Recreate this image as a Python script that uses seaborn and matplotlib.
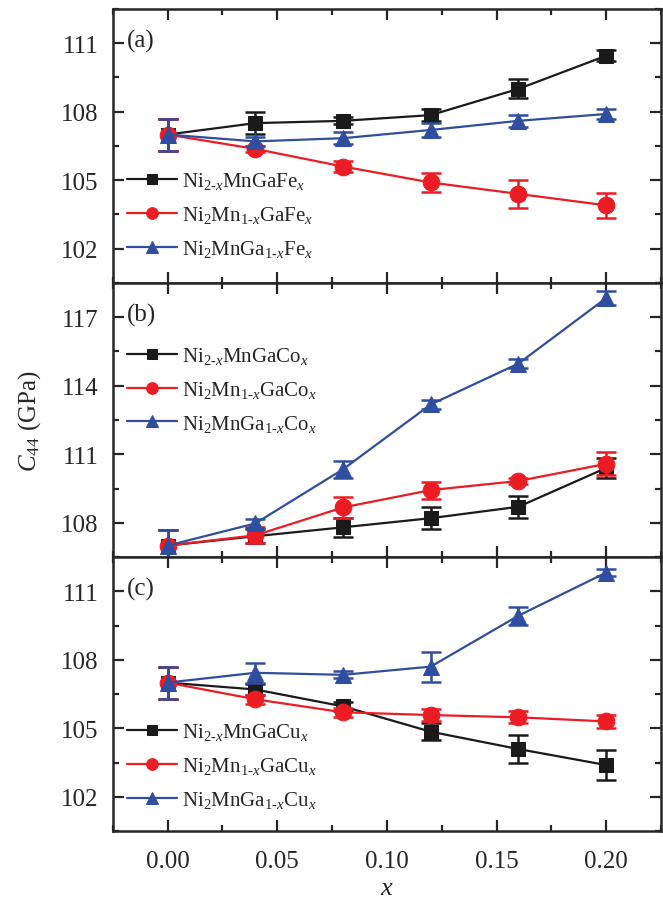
import numpy as np
import pandas as pd
import matplotlib
matplotlib.use("Agg")
import matplotlib.pyplot as plt
import seaborn as sns
from matplotlib.ticker import MultipleLocator

# ---------------- data ----------------
x = [0.00, 0.04, 0.08, 0.12, 0.16, 0.20]

# panel (a) Fe
a_ni = [107.0, 107.5, 107.6, 107.85, 109.0, 110.45]
a_ni_err = [0.7, 0.47, 0.15, 0.25, 0.42, 0.25]
a_mn = [107.0, 106.37, 105.6, 104.9, 104.4, 103.9]
a_mn_err = [0.7, 0.15, 0.22, 0.42, 0.6, 0.54]
a_ga = [107.0, 106.7, 106.84, 107.2, 107.6, 107.9]
a_ga_err = [0.7, 0.2, 0.25, 0.3, 0.25, 0.2]

# panel (b) Co
b_ni = [107.0, 107.41, 107.8, 108.2, 108.7, 110.4]
b_ni_err = [0.7, 0.3, 0.42, 0.47, 0.47, 0.42]
b_mn = [107.0, 107.45, 108.67, 109.43, 109.83, 110.58]
b_mn_err = [0.7, 0.35, 0.47, 0.37, 0.15, 0.5]
b_ga = [107.0, 107.97, 110.34, 113.18, 114.97, 117.84]
b_ga_err = [0.7, 0.2, 0.38, 0.2, 0.2, 0.3]

# panel (c) Cu
c_ni = [107.0, 106.7, 105.96, 104.85, 104.09, 103.39]
c_ni_err = [0.7, 0.25, 0.2, 0.38, 0.6, 0.64]
c_mn = [107.0, 106.27, 105.7, 105.58, 105.48, 105.3]
c_mn_err = [0.7, 0.2, 0.2, 0.25, 0.27, 0.3]
c_ga = [107.0, 107.43, 107.34, 107.7, 109.93, 111.82]
c_ga_err = [0.7, 0.45, 0.15, 0.66, 0.4, 0.15]

panel_tags = ["(a)", "(b)", "(c)"]
elements = ["Fe", "Co", "Cu"]
ylims = [(100.5, 112.5), (106.5, 118.5), (100.5, 112.5)]
yticks = [[102, 105, 108, 111], [108, 111, 114, 117], [102, 105, 108, 111]]
xticks = [0.0, 0.05, 0.10, 0.15, 0.20]
xticklabels = ["0.00", "0.05", "0.10", "0.15", "0.20"]
legend_y = [0.250, 0.612, 0.238]

# ---------------- style ----------------
sns.set_style("ticks")
plt.rcParams["font.family"] = ["Liberation Serif", "DejaVu Serif"]
plt.rcParams["mathtext.fontset"] = "custom"
plt.rcParams["mathtext.rm"] = "Liberation Serif"
plt.rcParams["mathtext.it"] = "Liberation Serif:italic"

colors = ["#1a1a1a", "#ec1c24", "#2f4ea0"]
markers = ["s", "o", "^"]
msizes = [10, 12, 12]

fig, axes = plt.subplots(3, 1, figsize=(6.63, 9.04), dpi=100, sharex=True)
fig.subplots_adjust(left=0.170, right=0.997, top=0.989, bottom=0.0796, hspace=0)

data = [
    [(a_ni, a_ni_err), (a_mn, a_mn_err), (a_ga, a_ga_err)],
    [(b_ni, b_ni_err), (b_mn, b_mn_err), (b_ga, b_ga_err)],
    [(c_ni, c_ni_err), (c_mn, c_mn_err), (c_ga, c_ga_err)],
]

for i, ax in enumerate(axes):
    el = elements[i]
    labels = [
        r"Ni$_{2\text{-}x}$MnGa" + el + r"$_x$",
        r"Ni$_2$Mn$_{1\text{-}x}$Ga" + el + r"$_x$",
        r"Ni$_2$MnGa$_{1\text{-}x}$" + el + r"$_x$",
    ]
    for j, (vals, errs) in enumerate(data[i]):
        ax.errorbar(x, vals, yerr=errs, fmt="none", ecolor=colors[j],
                    elinewidth=1.8, capsize=7.5, capthick=1.8, zorder=2 + j)
        sns.lineplot(x=x, y=vals, ax=ax, color=colors[j], marker=markers[j],
                     markersize=msizes[j], markeredgecolor=colors[j],
                     linewidth=1.6, label=labels[j], errorbar=None,
                     zorder=2.5 + j)
    ax.set_ylim(*ylims[i])
    ax.set_xlim(-0.025, 0.225)
    ax.set_yticks(yticks[i])
    ax.yaxis.set_minor_locator(MultipleLocator(1.5))
    ax.xaxis.set_minor_locator(MultipleLocator(0.025))
    ax.tick_params(which="both", direction="in", top=True, right=True,
                   width=1.6, labelsize=18)
    ax.tick_params(which="major", length=8)
    ax.tick_params(axis="y", which="major", pad=10)
    ax.tick_params(axis="x", which="major", pad=14)
    ax.tick_params(which="minor", length=4)
    for sp in ax.spines.values():
        sp.set_linewidth(1.8)
    ax.set_ylabel("")
    ax.text(0.025, 0.885, panel_tags[i], transform=ax.transAxes,
            fontsize=18, ha="left", va="center")
    ax.legend(loc="center left", bbox_to_anchor=(0.011, legend_y[i]),
              frameon=False, fontsize=15, markerscale=0.7,
              handlelength=2.4, handletextpad=0.25, labelspacing=0.62,
              borderaxespad=0.0)

axes[2].set_xticks(xticks)
axes[2].set_xticklabels(xticklabels)
axes[2].set_xlabel(r"$x$", fontsize=19, labelpad=3)

fig.text(0.045, 0.534, r"$C_{44}$ (GPa)", rotation=90, fontsize=18,
         ha="center", va="center")

fig.savefig("out.png", dpi=100)
